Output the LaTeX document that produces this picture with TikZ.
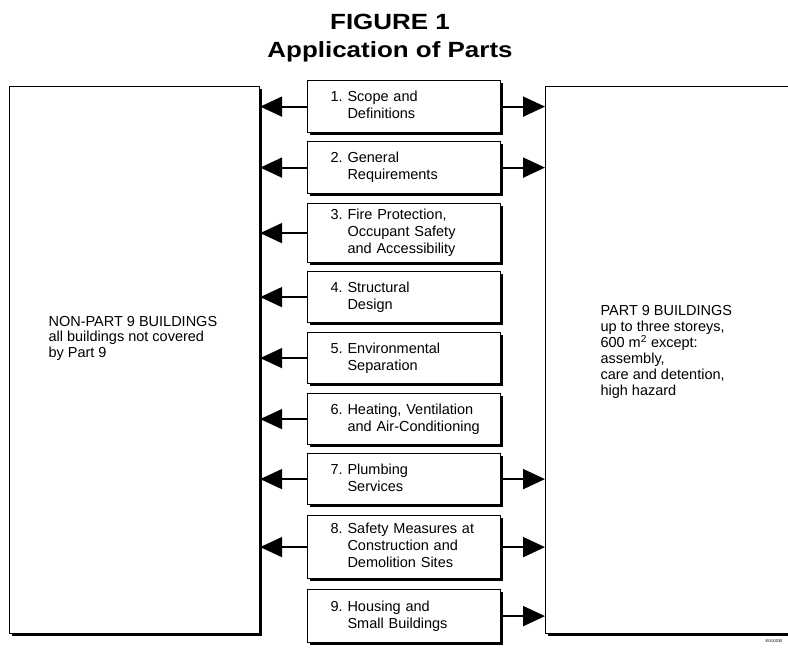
\documentclass[tikz,border=0pt]{standalone}
\usepackage{fontspec}
\setmainfont{Liberation Sans}
\newfontfamily\titlefont[FakeStretch=1.18]{Liberation Sans}
\usetikzlibrary{arrows.meta, shadows}

% number of a part, with the following lines hanging under its text
\newcommand{\partno}[2]{\hspace*{23pt}\begin{tabular}{@{}l@{\ }l@{}}#1 & #2\end{tabular}}

\begin{document}
\begin{tikzpicture}[x=1pt, y=-1pt, font=\fontsize{14.5}{17}\selectfont,
    bigbox/.style={draw, line width=1.2pt, fill=white, anchor=north west, inner sep=0pt,
      drop shadow={shadow xshift=2pt, shadow yshift=-2.5pt, opacity=1, fill=black}},
    partbox/.style={bigbox, text width=193pt, align=left},
    feed/.style={line width=2pt, -{Triangle[length=22pt, width=20pt]}}]

    % Page frame
    \clip (0,0) rectangle (788,648);

    % Title
    \node (figno) at (390,22) {\titlefont\bfseries\fontsize{22}{24}\selectfont FIGURE 1};
    \node (title) at (390,52) {\titlefont\bfseries\fontsize{22}{24}\selectfont Application of Parts};

    % The two groups of buildings
    \node[bigbox, minimum width=250pt, minimum height=547pt] (nonpart) at (9,86) {};
    \node[bigbox, minimum width=260pt, minimum height=547pt] (part) at (545,86) {};

    \node[anchor=west, align=left, font=\fontsize{14.5}{15.5}\selectfont] (nonparttext) at (45,338)
      {NON-PART 9 BUILDINGS\\all buildings not covered\\by Part 9};
    \node[anchor=west, align=left, font=\fontsize{14.5}{16}\selectfont] (parttext) at (597,352)
      {PART 9 BUILDINGS\\up to three storeys,\\600 m\textsuperscript{2} except:\\assembly,\\care and detention,\\high hazard};

    % The nine parts
    \node[partbox, minimum height=52pt] (p1) at (307,80) {\partno{1.}{Scope and\\ & Definitions}};
    \node[partbox, minimum height=52pt] (p2) at (307,141) {\partno{2.}{General\\ & Requirements}};
    \node[partbox, minimum height=59pt] (p3) at (307,203) {\partno{3.}{Fire Protection,\\ & Occupant Safety\\ & and Accessibility}};
    \node[partbox, minimum height=51pt] (p4) at (307,271) {\partno{4.}{Structural\\ & Design}};
    \node[partbox, minimum height=51pt] (p5) at (307,332) {\partno{5.}{Environmental\\ & Separation}};
    \node[partbox, minimum height=51pt] (p6) at (307,393) {\partno{6.}{Heating, Ventilation\\ & and Air-Conditioning}};
    \node[partbox, minimum height=51pt] (p7) at (307,453) {\partno{7.}{Plumbing\\ & Services}};
    \node[partbox, minimum height=63pt] (p8) at (307,515) {\partno{8.}{Safety Measures at\\ & Construction and\\ & Demolition Sites}};
    \node[partbox, minimum height=53pt] (p9) at (307,589) {\partno{9.}{Housing and\\ & Small Buildings}};

    % Parts that apply to non-Part 9 buildings
    \draw[feed] (p1.west) -- (p1.west -| nonpart.east);
    \draw[feed] (p2.west) -- (p2.west -| nonpart.east);
    \draw[feed] (p3.west) -- (p3.west -| nonpart.east);
    \draw[feed] (p4.west) -- (p4.west -| nonpart.east);
    \draw[feed] (p5.west) -- (p5.west -| nonpart.east);
    \draw[feed] (p6.west) -- (p6.west -| nonpart.east);
    \draw[feed] (p7.west) -- (p7.west -| nonpart.east);
    \draw[feed] (p8.west) -- (p8.west -| nonpart.east);

    % Parts that apply to Part 9 buildings
    \draw[feed] (p1.east) -- (p1.east -| part.west);
    \draw[feed] (p2.east) -- (p2.east -| part.west);
    \draw[feed] (p7.east) -- (p7.east -| part.west);
    \draw[feed] (p8.east) -- (p8.east -| part.west);
    \draw[feed] (p9.east) -- (p9.east -| part.west);

    % Drawing code
    \node[anchor=east, font=\fontsize{4}{5}\selectfont] (code) at (786,641) {EG00030};

\end{tikzpicture}
\end{document}
